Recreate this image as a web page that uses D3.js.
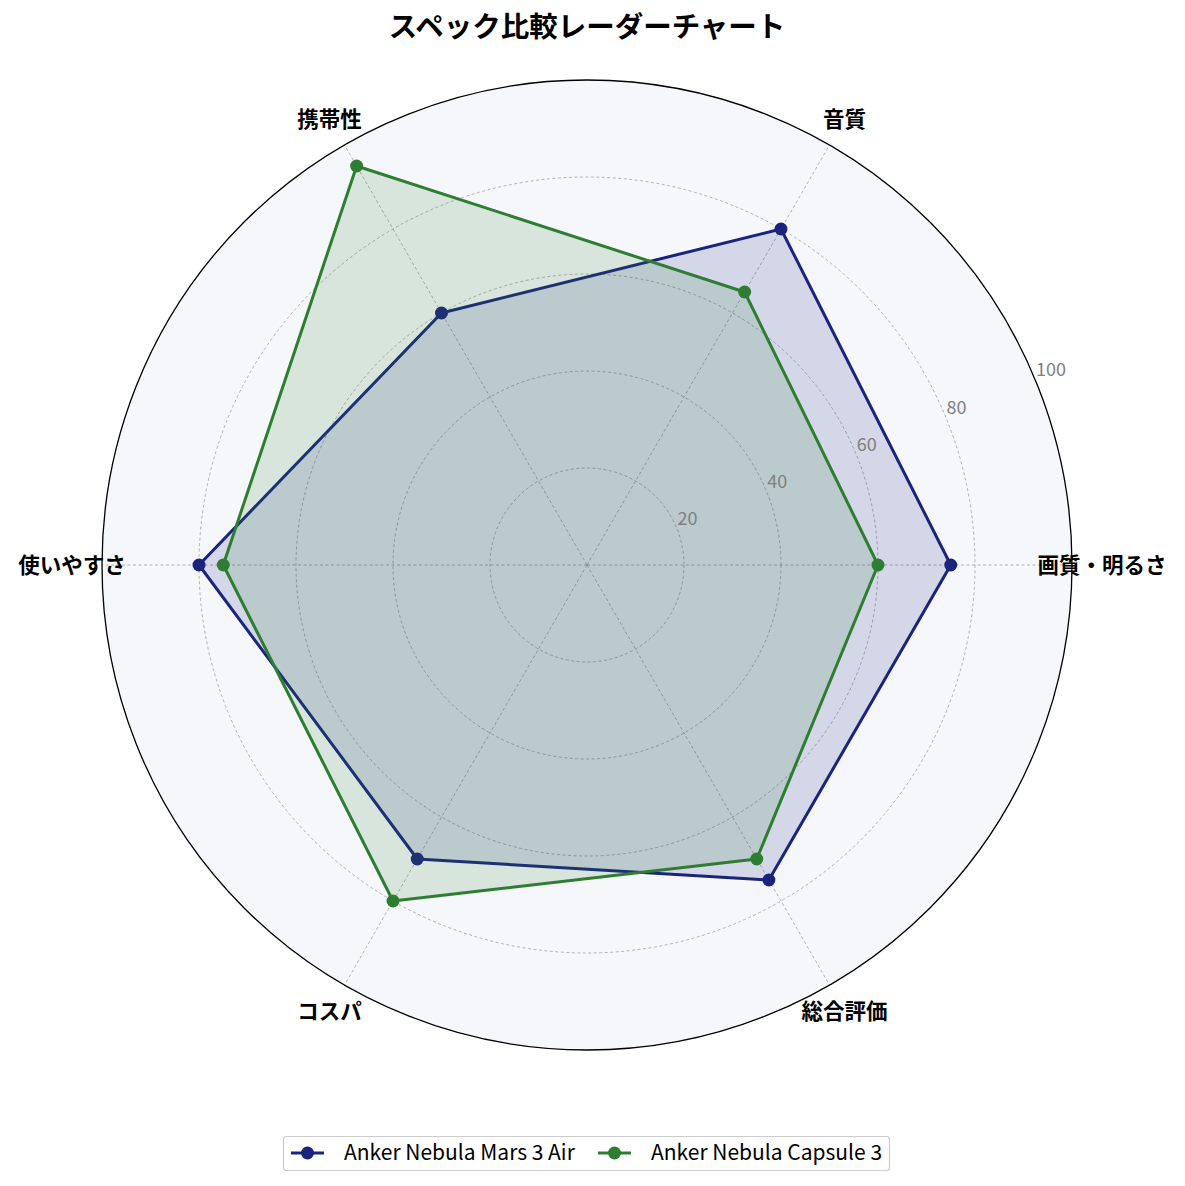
<!DOCTYPE html>
<html>
<head>
<meta charset="utf-8">
<script src="https://cdn.jsdelivr.net/npm/d3@7"></script>
<style>
  body { margin: 0; background: #fff; }
  text { font-family: "Noto Sans CJK JP", "Noto Sans", sans-serif; }
</style>
</head>
<body>
<div id="chart"></div>
<script>
  // categories (counter-clockwise from the right)
  var categories = ["画質・明るさ", "音質", "携帯性", "使いやすさ", "コスパ", "総合評価"];
  var seriesNames = ["Anker Nebula Mars 3 Air", "Anker Nebula Capsule 3"];
  var marsValues = [75, 80, 60, 80, 70, 75];
  var capsuleValues = [60, 65, 95, 75, 80, 70];
  var radialTicks = [20, 40, 60, 80, 100];
  var seriesColors = ["#1a237e", "#2e7d32"];

  var w = 1185, h = 1186,
    cx = 587, cy = 565, R = 485;

  var svg = d3.select("#chart").append("svg")
    .attr("width", w).attr("height", h);

  var r = d3.scaleLinear().domain([0, 100]).range([0, R]);
  var angle = d3.scaleLinear().domain([0, categories.length]).range([0, 2 * Math.PI]);

  // x/y from index + value, angle measured counter-clockwise from east
  function px(i, v) { return cx + r(v) * Math.cos(angle(i)); }
  function py(i, v) { return cy - r(v) * Math.sin(angle(i)); }

  // title
  svg.append("text")
    .attr("x", cx).attr("y", 37)
    .attr("text-anchor", "middle")
    .style("font-size", "28.5px").style("font-weight", "bold")
    .text("スペック比較レーダーチャート");

  // background disc
  svg.append("circle")
    .attr("cx", cx).attr("cy", cy).attr("r", R)
    .attr("fill", "#f5f7fb");

  var grid = svg.append("g");
  grid.selectAll(".ring")
    .data(radialTicks.slice(0, -1)).enter()
    .append("circle")
      .attr("cx", cx).attr("cy", cy)
      .attr("r", function(d) { return r(d); })
      .attr("fill", "none")
      .attr("stroke", "#a0a0a0")
      .attr("stroke-width", 0.8)
      .attr("stroke-dasharray", "3,2.5");

  grid.selectAll(".spoke")
    .data(categories).enter()
    .append("line")
      .attr("x1", cx).attr("y1", cy)
      .attr("x2", function(d, i) { return px(i, 100); })
      .attr("y2", function(d, i) { return py(i, 100); })
      .attr("stroke", "#a0a0a0")
      .attr("stroke-width", 0.8)
      .attr("stroke-dasharray", "3,2.5");

  var line = d3.line()
    .x(function(d, i) { return px(i, d); })
    .y(function(d, i) { return py(i, d); })
    .curve(d3.curveLinearClosed);

  var allSeries = [marsValues, capsuleValues];

  var groups = svg.selectAll(".series")
    .data(allSeries).enter()
    .append("g").attr("class", "series");

  groups.append("path")
    .attr("d", function(d) { return line(d); })
    .attr("fill", function(d, k) { return seriesColors[k]; })
    .attr("fill-opacity", 0.15)
    .attr("stroke", "none");

  groups.append("path")
    .attr("d", function(d) { return line(d); })
    .attr("fill", "none")
    .attr("stroke", function(d, k) { return seriesColors[k]; })
    .attr("stroke-width", 3)
    .attr("stroke-linejoin", "round");

  groups.each(function(vals, k) {
    d3.select(this).selectAll("circle")
      .data(vals).enter()
      .append("circle")
        .attr("cx", function(d, i) { return px(i, d); })
        .attr("cy", function(d, i) { return py(i, d); })
        .attr("r", 6.5)
        .attr("fill", seriesColors[k]);
  });

  // outer frame
  svg.append("circle")
    .attr("cx", cx).attr("cy", cy).attr("r", R)
    .attr("fill", "none")
    .attr("stroke", "#000")
    .attr("stroke-width", 1.3);

  // radial tick labels at 22.5 degrees
  var labAng = 22.5 * Math.PI / 180;
  svg.selectAll(".rtick")
    .data(radialTicks).enter()
    .append("text")
      .attr("x", function(d) { return cx + r(d) * Math.cos(labAng) + 1; })
      .attr("y", function(d) { return cy - r(d) * Math.sin(labAng) - 3; })
      .attr("text-anchor", "start")
      .style("font-size", "18px")
      .style("fill", "#808080")
      .text(function(d) { return d; });

  // category labels
  svg.selectAll(".cat")
    .data(categories).enter()
    .append("text")
      .attr("x", function(d, i) { return cx + (R + 30) * Math.cos(angle(i)); })
      .attr("y", function(d, i) { return cy - (R + 30) * Math.sin(angle(i)); })
      .attr("dy", "0.35em")
      .attr("text-anchor", "middle")
      .style("font-size", "21.5px").style("font-weight", "bold")
      .text(function(d) { return d; });

  // legend
  var legend = svg.append("g");
  legend.append("rect")
    .attr("x", 283.5).attr("y", 1136.5)
    .attr("width", 606).attr("height", 34)
    .attr("rx", 3)
    .attr("fill", "#fff")
    .attr("stroke", "#cccccc")
    .attr("stroke-width", 1.2);

  var legX = [291, 598];
  var items = legend.selectAll(".item")
    .data(seriesNames).enter()
    .append("g")
      .attr("transform", function(d, k) { return "translate(" + legX[k] + ",1153)"; });
  items.append("line")
    .attr("x1", 0).attr("x2", 33)
    .attr("stroke", function(d, k) { return seriesColors[k]; })
    .attr("stroke-width", 3);
  items.append("circle")
    .attr("cx", 16.5).attr("r", 6.5)
    .attr("fill", function(d, k) { return seriesColors[k]; });
  items.append("text")
    .attr("x", 53).attr("dy", "0.35em")
    .style("font-size", "21px")
    .text(function(d) { return d; });
</script>
</body>
</html>
